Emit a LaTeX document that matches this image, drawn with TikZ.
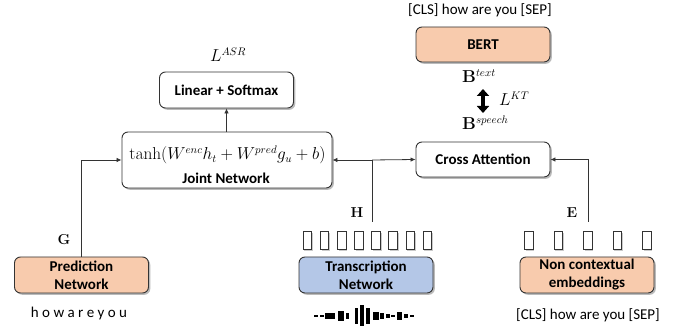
\documentclass[tikz,border=0pt]{standalone}
\usepackage[no-math]{fontspec}
\setmainfont{Carlito}
\usetikzlibrary{arrows.meta,shadows}
\definecolor{peach}{HTML}{F8CBAD}
\definecolor{lblue}{HTML}{B4C7E7}
\definecolor{edge}{HTML}{333333}
\tikzset{
  txt/.style={font=\fontsize{15}{18}\selectfont, inner sep=0pt, align=center},
  mtxt/.style={font=\fontsize{16.3}{19}\selectfont, inner sep=0pt, align=center},
  boxnode/.style={txt, draw=edge, line width=0.9pt, rounded corners=6pt,
    minimum width=134pt, minimum height=36pt, fill=white,
    drop shadow={shadow xshift=1.8pt, shadow yshift=-1.8pt, opacity=0.45, fill=black!60}},
  tok/.style={draw=edge, line width=1pt, fill=white, minimum width=8.5pt, minimum height=18pt, inner sep=0pt,
    drop shadow={shadow xshift=1.2pt, shadow yshift=-1.2pt, opacity=0.35, fill=black!60}},
  arr/.style={draw=edge, line width=0.8pt, -{Latex[length=5pt,width=4.5pt]}},
  ln/.style={draw=edge, line width=0.8pt},
  bar/.style={fill=black, draw=none},
}
\begin{document}
\begin{tikzpicture}[x=1pt,y=-1pt]
\useasboundingbox (0,0) rectangle (688,336);

% boxes
\node[boxnode, font=\fontsize{15}{18}\selectfont\bfseries] (linear) at (226.5,90) {Linear + Softmax};
\node[boxnode, minimum width=210pt, minimum height=56pt] (joint) at (227,160) {};
\node[mtxt] (jointmath) at (227.5,155) {$\tanh(W^{enc}h_t + W^{pred}g_u + b)$};
\node[txt, font=\fontsize{15}{18}\selectfont\bfseries] (jointlbl) at (226,178) {Joint Network};
\node[boxnode, fill=peach, font=\fontsize{15}{18}\selectfont\bfseries] (pred) at (81.5,275) {Prediction\\Network};
\node[boxnode, fill=lblue, font=\fontsize{15}{18}\selectfont\bfseries] (trans) at (366,275) {Transcription\\Network};
\node[boxnode, fill=peach, font=\fontsize{15}{18}\selectfont\bfseries] (noncon) at (587,275) {Non contextual\\embeddings};
\node[boxnode, minimum height=35pt, font=\fontsize{15}{18}\selectfont\bfseries] (cross) at (483,159.5) {Cross Attention};
\node[boxnode, fill=peach, minimum height=35pt, font=\fontsize{15}{18}\selectfont\bfseries] (bert) at (483,44.5) {BERT};

% token rectangles
\foreach \i in {0,...,7} {
  \node[tok] (t\i) at ({307.5+17.14*\i},241) {};
}
\foreach \i in {0,...,4} {
  \node[tok] (e\i) at ({529+29.5*\i},241) {};
}

% texts
\node[txt] (clstop) at (480,10) {[CLS] how are you [SEP]};
\node[txt] (clsbot) at (588,315) {[CLS] how are you [SEP]};
\node[txt] (howare) at (79,314) {h o w a r e y o u};
\node[mtxt] (lasr) at (228,55) {$L^{ASR}$};
\node[mtxt, anchor=west] (btext) at (462,76) {$\mathbf{B}^{text}$};
\node[mtxt, anchor=west] (bspeech) at (462,123) {$\mathbf{B}^{speech}$};
\node[mtxt, anchor=west] (lkt) at (499,99) {$L^{KT}$};
\node[txt] (glbl) at (64,240) {$\mathbf{G}$};
\node[txt] (hlbl) at (357,213) {$\mathbf{H}$};
\node[txt] (elbl) at (572,213) {$\mathbf{E}$};

% connectors
\coordinate (hbase) at (372,222);
\coordinate (hjoin) at (372,160);
\coordinate (ebase) at (588,222);
\coordinate (kttop) at (483,89);
\coordinate (ktbot) at (483,113);

\draw[arr] (joint.north -| linear.south) -- (linear.south);
\draw[arr] (pred.north) |- (joint.west);
\draw[ln] (hbase) -- (hjoin);
\draw[arr] (hjoin) -- (joint.east);
\draw[arr] (hjoin) -- (cross.west);
\draw[arr] (ebase) |- (cross.east);
\draw[line width=4.5pt, {Triangle[length=7pt,width=12pt]}-{Triangle[length=7pt,width=12pt]}] (kttop) -- (ktbot);

% waveform
\foreach \a/\b/\h in {314/317.3/2.4, 320/323.3/2.4, 325/329.3/5.7, 330.7/335/5.7, 338.3/343.3/10.7, 346/349/5.7, 355/357.7/16.7, 360/363.3/21, 366/369.3/16.7, 373.3/378.3/7.7, 380/384/5.7, 386/389.3/4.3, 391.7/395/2.4, 397.7/401.7/7.7, 404.3/407.3/4.3, 410/413.3/2.4} {
  \fill[bar] ({\a-0.4},{316-\h/2}) rectangle ({\b+0.4},{316+\h/2});
}
\end{tikzpicture}
\end{document}
